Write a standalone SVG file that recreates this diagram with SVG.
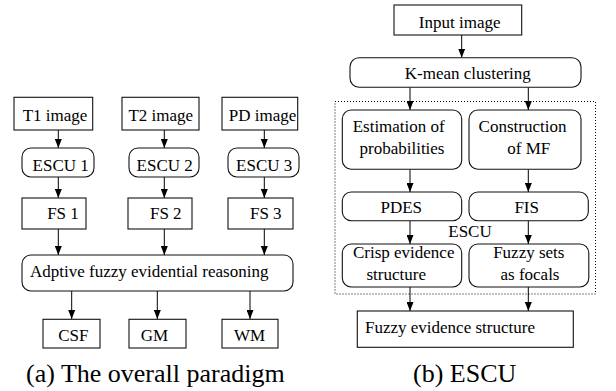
<svg xmlns="http://www.w3.org/2000/svg" width="616" height="391" viewBox="0 0 616 391">
<defs>
<marker id="arr" markerWidth="9" markerHeight="7" refX="9" refY="3.5" orient="auto" markerUnits="userSpaceOnUse">
<path d="M0,0 L9,3.5 L0,7 z" fill="#000"/>
</marker>
</defs>
<style>
.b{fill:#fff;stroke:#111;stroke-width:1.1}
.t{font-family:'Liberation Serif',serif;font-size:17px;fill:#000}
.m{text-anchor:middle}
.c{stroke:#000;stroke-width:1;fill:none;marker-end:url(#arr)}
.cap{font-family:'Liberation Serif',serif;font-size:26px;fill:#000}
</style>
<rect width="616" height="391" fill="#fff"/>

<g id="escu-frame">
<rect x="335" y="101.5" width="260.5" height="192.5" fill="none" stroke="#000" stroke-width="1" stroke-dasharray="1 2"/>
<text class="t m" x="470" y="236.7">ESCU</text>
</g>

<g id="connectors">
<line class="c" x1="58.3" y1="130" x2="58.3" y2="148"/>
<line class="c" x1="164.3" y1="130" x2="164.3" y2="148"/>
<line class="c" x1="264.3" y1="130" x2="264.3" y2="148"/>
<line class="c" x1="58.3" y1="177" x2="58.3" y2="198"/>
<line class="c" x1="164.3" y1="177" x2="164.3" y2="198"/>
<line class="c" x1="264.3" y1="177" x2="264.3" y2="198"/>
<line class="c" x1="58.3" y1="229" x2="58.3" y2="255"/>
<line class="c" x1="164.3" y1="229" x2="164.3" y2="255"/>
<line class="c" x1="264.3" y1="229" x2="264.3" y2="255"/>
<line class="c" x1="71.7" y1="291" x2="71.7" y2="319"/>
<line class="c" x1="157.3" y1="291" x2="157.3" y2="319"/>
<line class="c" x1="250" y1="291" x2="250" y2="319"/>
<line class="c" x1="461.7" y1="35" x2="461.7" y2="57.7"/>
<line class="c" x1="410" y1="87.3" x2="410" y2="110"/>
<line class="c" x1="528.3" y1="87.3" x2="528.3" y2="110"/>
<line class="c" x1="410" y1="169.3" x2="410" y2="192"/>
<line class="c" x1="528.3" y1="169.3" x2="528.3" y2="192"/>
<line class="c" x1="410" y1="220.7" x2="410" y2="244"/>
<line class="c" x1="528.3" y1="220.7" x2="528.3" y2="244"/>
<line class="c" x1="410" y1="287" x2="410" y2="311"/>
<line class="c" x1="528.3" y1="287" x2="528.3" y2="311"/>
</g>

<g id="t1"><rect class="b" x="14" y="97.3" width="78.7" height="32.7"/><text class="t m" x="55" y="120.7">T1 image</text></g>
<g id="t2"><rect class="b" x="122" y="97.3" width="77" height="32.7"/><text class="t m" x="160.8" y="120.7">T2 image</text></g>
<g id="pd"><rect class="b" x="222" y="97.3" width="75.7" height="32.7"/><text class="t m" x="262.5" y="120.7">PD image</text></g>

<g id="escu1"><rect class="b" x="22" y="148" width="72" height="29" rx="9"/><text class="t m" x="60.7" y="171.3">ESCU 1</text></g>
<g id="escu2"><rect class="b" x="129" y="148" width="70" height="29" rx="9"/><text class="t m" x="164.7" y="171.3">ESCU 2</text></g>
<g id="escu3"><rect class="b" x="228" y="148" width="71" height="29" rx="9"/><text class="t m" x="264.2" y="171.3">ESCU 3</text></g>

<g id="fs1"><rect class="b" x="22" y="198" width="64" height="31"/><text class="t m" x="63" y="219">FS 1</text></g>
<g id="fs2"><rect class="b" x="128" y="198" width="64" height="31"/><text class="t m" x="165.8" y="219">FS 2</text></g>
<g id="fs3"><rect class="b" x="228" y="198" width="65" height="31"/><text class="t m" x="265.8" y="219">FS 3</text></g>

<g id="afer"><rect class="b" x="22" y="255" width="271" height="36" rx="9"/><text class="t" x="30" y="276.7">Adptive fuzzy evidential reasoning</text></g>

<g id="csf"><rect class="b" x="43" y="319.3" width="57" height="28.7"/><text class="t m" x="73.3" y="340.7">CSF</text></g>
<g id="gm"><rect class="b" x="129" y="319.3" width="57" height="28.7"/><text class="t m" x="154.5" y="340.7">GM</text></g>
<g id="wm"><rect class="b" x="222" y="319.3" width="56" height="28.7"/><text class="t m" x="249.5" y="340.7">WM</text></g>

<text class="cap" x="26" y="381.7">(a) The overall paradigm</text>

<g id="input"><rect class="b" x="394" y="5" width="127.7" height="30"/><text class="t m" x="459.7" y="27.7">Input image</text></g>
<g id="kmean"><rect class="b" x="350" y="57.7" width="231" height="29.6" rx="9"/><text class="t m" x="467.8" y="79.3">K-mean clustering</text></g>
<g id="estim"><rect class="b" x="342.3" y="110" width="119.4" height="59.3" rx="9"/><text class="t m" x="398.7" y="131.7">Estimation of</text><text class="t m" x="402" y="154">probabilities</text></g>
<g id="constr"><rect class="b" x="469" y="110" width="112" height="59.3" rx="9"/><text class="t m" x="522.5" y="131.7">Construction</text><text class="t m" x="528.8" y="154">of MF</text></g>
<g id="pdes"><rect class="b" x="342.3" y="192" width="119.4" height="28.7" rx="9"/><text class="t m" x="401.3" y="213.3">PDES</text></g>
<g id="fis"><rect class="b" x="469" y="192" width="119.3" height="28.7" rx="9"/><text class="t m" x="526.7" y="213.3">FIS</text></g>
<g id="crisp"><rect class="b" x="342.3" y="244" width="119.4" height="43" rx="9"/><text class="t m" x="403.7" y="258.3">Crisp evidence</text><text class="t m" x="396.2" y="280">structure</text></g>
<g id="fuzzysets"><rect class="b" x="469" y="244" width="119.8" height="43" rx="9"/><text class="t m" x="528.8" y="258.3">Fuzzy sets</text><text class="t m" x="530" y="280">as focals</text></g>
<g id="fes"><rect class="b" x="357.3" y="311" width="216" height="36.3"/><text class="t" x="365" y="332.7">Fuzzy evidence structure</text></g>

<text class="cap" x="413" y="381.7">(b) ESCU</text>
</svg>
